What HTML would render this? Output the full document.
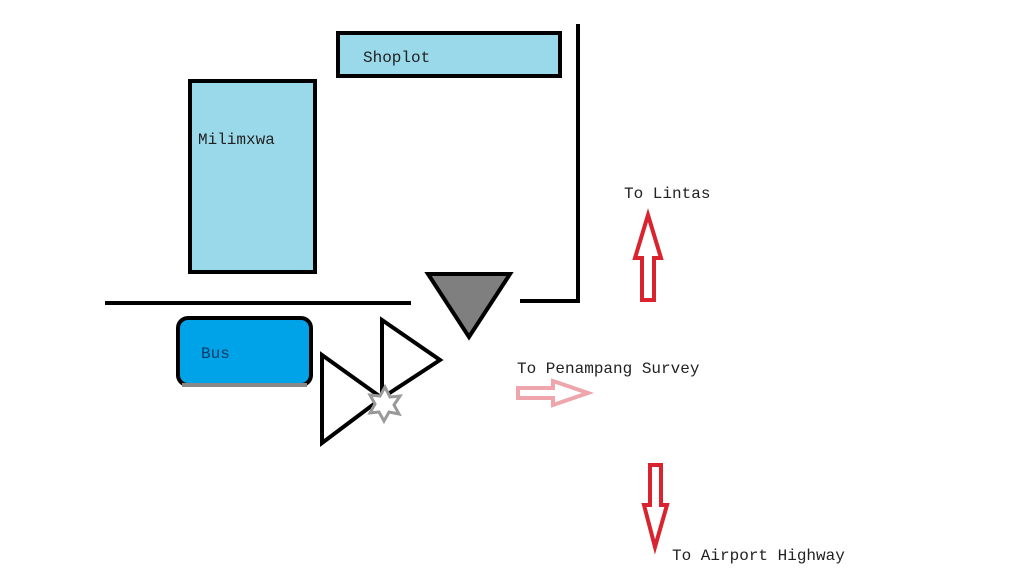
<!DOCTYPE html>
<html><head><style>
body{margin:0;background:#fff;}
svg text{font-family:"Liberation Mono","Noto Serif CJK SC",monospace;font-size:16px;fill:#222;}
</style></head><body>
<svg width="1024" height="576" xmlns="http://www.w3.org/2000/svg">
<rect width="1024" height="576" fill="#fff"/>
<rect x="338" y="33" width="222" height="43" fill="#99d9ea" stroke="#000" stroke-width="4"/>
<text x="363" y="62">Shoplot</text>
<rect x="190" y="81" width="125" height="191" fill="#99d9ea" stroke="#000" stroke-width="4"/>
<text x="198" y="144">Milimxwa</text>
<line x1="105" y1="303" x2="411" y2="303" stroke="#000" stroke-width="4"/>
<rect x="178" y="318" width="133" height="67" rx="10" fill="#00a2e8" stroke="#000" stroke-width="4"/>
<line x1="182" y1="385" x2="307" y2="385" stroke="#888" stroke-width="4"/>
<text x="201" y="358" style="fill:#0d3b66">Bus</text>
<polyline points="578,24 578,301 520,301" fill="none" stroke="#000" stroke-width="4"/>
<polygon points="428,274 510,274 469,337" fill="#7f7f7f" stroke="#000" stroke-width="4"/>
<polygon points="382,320 440,360 382,398" fill="none" stroke="#000" stroke-width="4"/>
<polygon points="322,355 382,398 322,443" fill="none" stroke="#000" stroke-width="4"/>
<polygon points="385,387 390,397 400,396 394,405 399,414 389,412 384,421 379,412 370,413 375,404 370,395 380,396" fill="#fff" stroke="#999" stroke-width="3"/>
<text x="624" y="198">To Lintas</text>
<polygon points="648,215 661,258 654,258 654,300 642,300 642,258 635,258" fill="none" stroke="#d9232e" stroke-width="4"/>
<text x="517" y="373">To Penampang Survey</text>
<polygon points="518,388 553,388 553,381 588,393 553,405 553,398 518,398" fill="none" stroke="#eea6ac" stroke-width="4"/>
<polygon points="650,465 661,465 661,505 667,505 655,547 644,505 650,505" fill="none" stroke="#d9232e" stroke-width="4"/>
<text x="672" y="560">To Airport Highway</text>
</svg>
</body></html>
